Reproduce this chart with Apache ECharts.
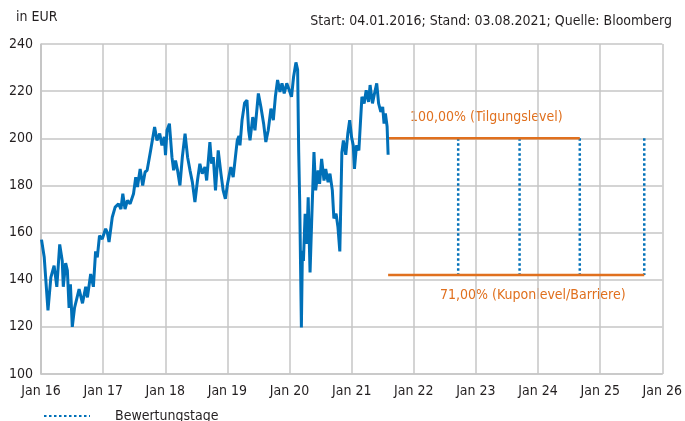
<!DOCTYPE html>
<html>
<head>
<meta charset="utf-8">
<script src="https://cdn.jsdelivr.net/npm/echarts@6/dist/echarts.min.js"></script>
<style>
  html, body { margin: 0; padding: 0; background: #fff; }
  #chart { width: 685px; height: 421px; }
</style>
</head>
<body>
<div id="chart"></div>
<script>
// Kursverlauf
var priceDates = [
  '2016-01-04','2016-01-20','2016-01-29','2016-02-11','2016-02-28','2016-03-18','2016-04-03','2016-04-20',
  '2016-05-05','2016-05-11','2016-05-25','2016-06-04','2016-06-14','2016-06-22','2016-07-03','2016-07-16',
  '2016-08-12','2016-09-01','2016-09-20','2016-09-30','2016-10-19','2016-11-04','2016-11-17','2016-11-27',
  '2016-12-10','2016-12-26','2017-01-15','2017-01-25','2017-02-04','2017-02-23','2017-03-12','2017-04-01',
  '2017-04-15','2017-04-26','2017-05-09','2017-05-23','2017-06-08','2017-06-28','2017-07-11','2017-07-21',
  '2017-08-06','2017-08-21','2017-09-04','2017-09-16','2017-10-05','2017-10-30','2017-11-13','2017-11-29',
  '2017-12-12','2017-12-26','2018-01-02','2018-01-11','2018-01-25','2018-02-09','2018-02-19','2018-03-02',
  '2018-03-14','2018-03-28','2018-04-11','2018-04-27','2018-05-12','2018-05-26','2018-06-09','2018-06-24',
  '2018-07-09','2018-07-23','2018-08-06','2018-08-22','2018-09-01','2018-09-20','2018-09-30','2018-10-10',
  '2018-10-23','2018-11-08','2018-11-24','2018-12-07','2018-12-20','2019-01-02','2019-01-21','2019-02-04',
  '2019-02-17','2019-02-28','2019-03-10','2019-03-16','2019-03-28','2019-04-12','2019-04-26','2019-05-06',
  '2019-05-14','2019-05-30','2019-06-12','2019-07-02','2019-07-17','2019-08-02','2019-08-15','2019-08-29',
  '2019-09-14','2019-09-28','2019-10-10','2019-10-23','2019-11-06','2019-11-18','2019-12-01','2019-12-16',
  '2019-12-31','2020-01-13','2020-01-25','2020-02-08','2020-02-18','2020-02-24','2020-03-01','2020-03-11',
  '2020-03-17','2020-03-23','2020-04-02','2020-04-12','2020-04-20','2020-05-01','2020-05-10','2020-05-24',
  '2020-06-03','2020-06-17','2020-06-26','2020-07-08','2020-07-22','2020-08-01','2020-08-15','2020-08-26',
  '2020-09-09','2020-09-18','2020-10-01','2020-10-12','2020-10-23','2020-11-04','2020-11-13','2020-11-20',
  '2020-11-27','2020-12-09','2020-12-20','2020-12-31','2021-01-10','2021-01-17','2021-01-29','2021-02-12',
  '2021-02-22','2021-03-02','2021-03-15','2021-03-27','2021-04-10','2021-04-19','2021-05-03','2021-05-15',
  '2021-05-28','2021-06-08','2021-06-21','2021-07-02','2021-07-10','2021-07-18','2021-07-28','2021-08-03'
];
var priceValues = [
  157, 149.5, 149, 127, 141, 146, 137, 155,
  148, 137, 147, 144, 128, 138, 120, 128,
  136, 130, 137, 132.5, 142.4, 137, 152, 149.5,
  158.7, 157.3, 161.6, 160, 156, 166.5, 170.8, 172.2,
  170, 176.5, 170, 173.6, 172.2, 176.5, 183.5, 179.3,
  187, 180, 185.7, 186.4, 194.2, 204.8, 199.1, 202,
  197, 200.6, 192.8, 203.4, 206.2, 192, 186.4, 190.6,
  186.4, 180, 192, 202, 192, 186.4, 181.4, 172.9,
  182.1, 189.2, 185, 187.8, 182.1, 198.4, 189.2, 192,
  177.9, 194.9, 185, 177.9, 174.3, 180.7, 187.8, 183.5,
  192, 199.1, 201, 197, 207.6, 215, 216.2, 203.4,
  199.1, 209, 203.4, 219, 213.3, 206.2, 198.4, 203.4,
  212.6, 207.7, 217.6, 224.7, 219.7, 223.3, 219, 223.3,
  220.4, 217.6, 226, 232.2, 229, 195, 173.6, 119.7,
  152.3, 148, 168, 155.2, 175, 143.1, 163.7, 194.2,
  177.9, 186.4, 180.7, 191.3, 182.1, 187, 181.4, 185,
  177.9, 166, 168, 162.3, 152, 194, 199.1, 199,
  193, 202, 207.7, 200.5, 197, 187, 197, 194.9,
  207.7, 217.6, 214.8, 220.4, 215.4, 222.6, 214.8, 219,
  223.3, 214.8, 211.2, 213.3, 206.2, 210.5, 205, 193
];

// Produktdaten
var startDate = '2021-08-03';
var bewertungstage = ['2022-09-19', '2023-09-15', '2024-09-03', '2025-09-17'];
var tilgungslevel = 200;   // 100,00%
var kuponlevel = 142;      // 71,00%

var font = '"Liberation Sans Narrow", "DejaVu Sans Condensed", sans-serif';
var textColor = '#231f20';
var blue = '#0070b8';
var orange = '#e0701e';
var gridColor = '#c6c6c6';

var kursData = priceDates.map(function (d, i) { return [d, priceValues[i]]; });

// senkrechte Linien an den Bewertungstagen, getrennt durch Luecken
var bewData = [];
bewertungstage.forEach(function (d) {
    bewData.push([d, tilgungslevel]);
    bewData.push([d, kuponlevel]);
    bewData.push([d, '-']);
});

var tilgData = [[startDate, tilgungslevel], [bewertungstage[2], tilgungslevel]];
var kuponData = [[startDate, kuponlevel], [bewertungstage[3], kuponlevel]];

var chart = echarts.init(document.getElementById('chart'));
chart.setOption({
    animation: false,
    textStyle: { fontFamily: font },
    grid: { left: 41, right: 18, top: 44, bottom: 47 },
    legend: {
        data: ['Bewertungstage'],
        left: 38, top: 404,
        itemWidth: 46, itemHeight: 10,
        itemStyle: { opacity: 0 },
        textStyle: { fontSize: 14, color: textColor, fontFamily: font, padding: [0, 0, 0, 20] }
    },
    xAxis: {
        type: 'time',
        min: '2016-01-01',
        max: '2026-01-01',
        splitNumber: 10,
        axisLine: { show: true, lineStyle: { color: gridColor, width: 1.5 } },
        axisTick: { show: false },
        splitLine: { show: true, lineStyle: { color: gridColor, width: 1.5 } },
        axisLabel: {
            color: textColor, fontSize: 14, margin: 10, fontFamily: font,
            showMinLabel: true, showMaxLabel: true, hideOverlap: false,
            formatter: function (v) {
                return 'Jan ' + String(new Date(v).getFullYear()).slice(2);
            }
        }
    },
    yAxis: {
        type: 'value',
        min: 100, max: 240, interval: 20,
        axisLine: { show: true, lineStyle: { color: gridColor, width: 1.5 } },
        axisTick: { show: false },
        splitLine: { show: true, lineStyle: { color: gridColor, width: 1.5 } },
        axisLabel: { color: textColor, fontSize: 14, margin: 8, fontFamily: font }
    },
    graphic: [
        { type: 'text', left: 16, top: 10, style: { text: 'in EUR', font: '14px ' + font, fill: textColor } },
        { type: 'text', right: 13, top: 14, style: { text: 'Start: 04.01.2016; Stand: 03.08.2021; Quelle: Bloomberg', font: '14px ' + font, fill: textColor } },
        { type: 'text', left: 410, top: 110, style: { text: '100,00% (Tilgungslevel)', font: '14px ' + font, fill: orange } },
        { type: 'text', left: 440, top: 288, style: { text: '71,00% (Kuponlevel/Barriere)', font: '14px ' + font, fill: orange } }
    ],
    series: [
        {
            name: 'Kurs', type: 'line', data: kursData,
            showSymbol: false, symbol: 'none',
            lineStyle: { color: blue, width: 3 }, z: 5
        },
        {
            name: 'Tilgungslevel', type: 'line', data: tilgData,
            showSymbol: false, symbol: 'none',
            lineStyle: { color: orange, width: 2.5 }, z: 4
        },
        {
            name: 'Kuponlevel', type: 'line', data: kuponData,
            showSymbol: false, symbol: 'none',
            lineStyle: { color: orange, width: 2.5 }, z: 4
        },
        {
            name: 'Bewertungstage', type: 'line', data: bewData,
            showSymbol: false, symbol: 'none', connectNulls: false,
            itemStyle: { color: blue },
            lineStyle: { color: blue, width: 2.5, type: [2.5, 2.5] }, z: 3
        }
    ]
});
</script>
</body>
</html>
